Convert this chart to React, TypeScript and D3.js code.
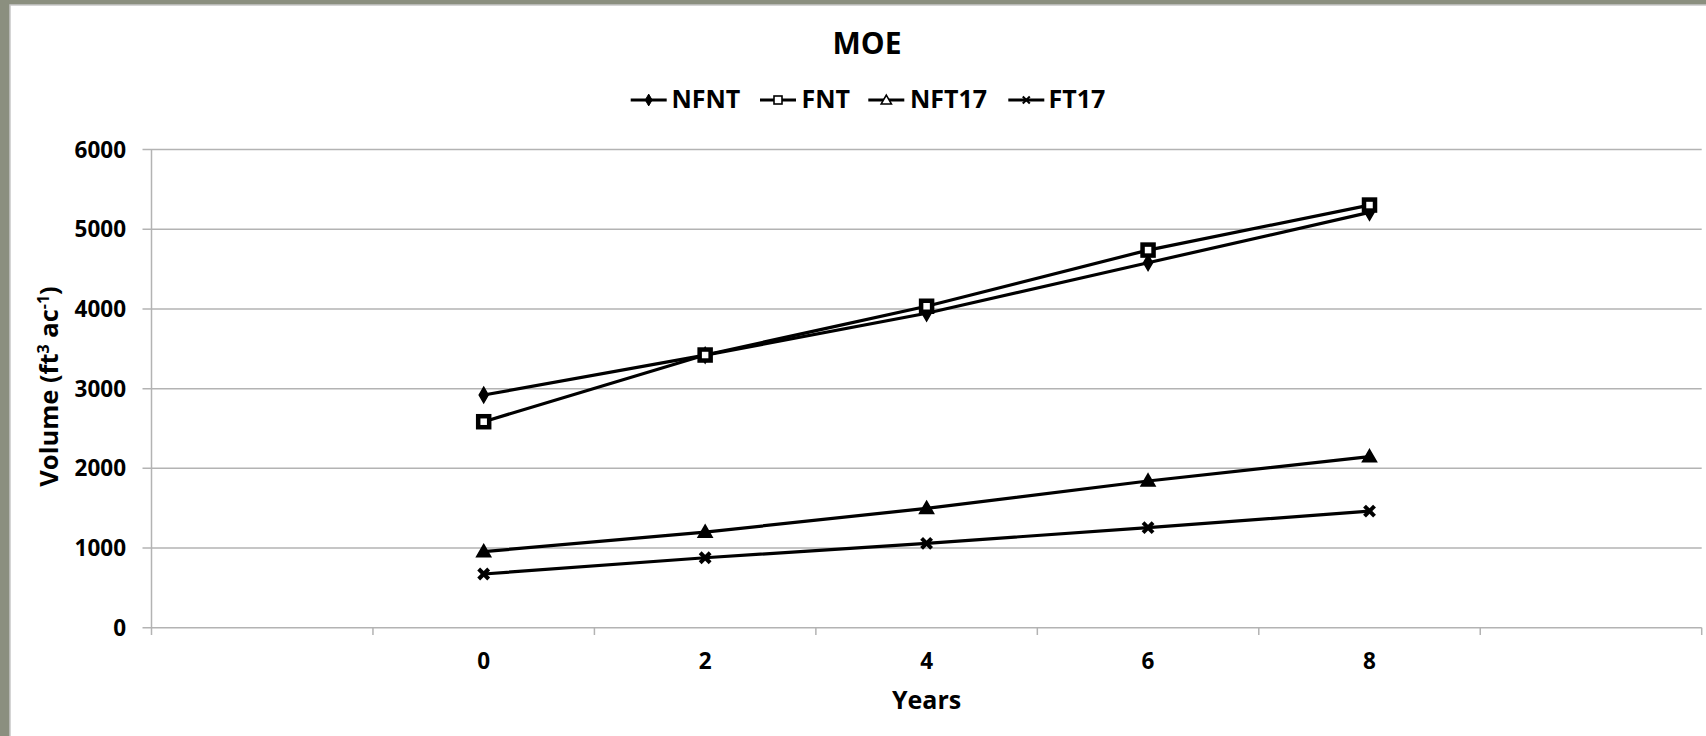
import React from "react";
import * as d3 from "d3";

const categories = ["", "0", "2", "4", "6", "8", ""];
const pointCats = ["0", "2", "4", "6", "8"];
const nfnt = [2920, 3420, 3946, 4580, 5212];
const fnt = [2585, 3422, 4034, 4739, 5304];
const nft17 = [955, 1200, 1498, 1841, 2146];
const ft17 = [674, 878, 1059, 1255, 1464];
const yTicks = [0, 1000, 2000, 3000, 4000, 5000, 6000];
const seriesNames = ["NFNT", "FNT", "NFT17", "FT17"];
const seriesValues = [nfnt, fnt, nft17, ft17];
const seriesMarkers = ["diamond", "square", "triangle", "cross"];

const W = 1706;
const H = 736;
const FONT = "'Open Sans', 'Noto Sans', sans-serif";

const x = d3
  .scaleBand<number>()
  .domain(d3.range(categories.length))
  .range([151.5, 1701.7])
  .paddingInner(0)
  .paddingOuter(0);
const y = d3.scaleLinear().domain([0, 6000]).range([627.7, 149.6]);

const catIndex = (c: string) => categories.indexOf(c);
const cx = (c: string) => (x(catIndex(c)) as number) + x.bandwidth() / 2;

function Marker({ type, px, py, legend = false }: { type: string; px: number; py: number; legend?: boolean }) {
  if (type === "diamond") {
    const p = d3.symbol(d3.symbolDiamond, legend ? 40 : 70)();
    return (
      <path
        d={p || ""}
        transform={`translate(${px},${py})`}
        fill="#000"
        stroke="#000"
        strokeWidth={legend ? 1 : 1.5}
        strokeLinejoin="miter"
      />
    );
  }
  if (type === "square") {
    const r = legend ? 4 : 5.5;
    return (
      <rect
        x={px - r}
        y={py - r}
        width={2 * r}
        height={2 * r}
        fill="#fff"
        stroke="#000"
        strokeWidth={legend ? 1.6 : 4.5}
      />
    );
  }
  if (type === "triangle") {
    const p = d3.symbol(d3.symbolTriangle, legend ? 45 : 80)();
    return (
      <path
        d={p || ""}
        transform={`translate(${px},${py + 1})`}
        fill={legend ? "#fff" : "#000"}
        stroke="#000"
        strokeWidth={legend ? 1.6 : 1.8}
        strokeLinejoin="miter"
      />
    );
  }
  const r = legend ? 3.5 : 5;
  return (
    <g transform={`translate(${px},${py})`} stroke="#000" strokeWidth={legend ? 2 : 4} strokeLinecap="butt">
      <line x1={-r} y1={-r} x2={r} y2={r} />
      <line x1={-r} y1={r} x2={r} y2={-r} />
    </g>
  );
}

export default function App() {
  const line = d3
    .line<number>()
    .x((_, i) => cx(pointCats[i]))
    .y((v) => y(v));

  const legendItems = [
    { lineX: 630.7, textX: 671.5 },
    { lineX: 760, textX: 801.5 },
    { lineX: 868.3, textX: 910 },
    { lineX: 1008.3, textX: 1048.5 },
  ];

  return (
    <div style={{ position: "fixed", left: 0, top: 0, width: W, height: H, overflow: "hidden" }}>
      <svg width={W} height={H} style={{ display: "block" }}>
        <rect x={0} y={0} width={W} height={H} fill="#8b8f7f" />
        <rect x={10} y={5} width={W + 20} height={H + 20} fill="#fff" stroke="#c8c8c8" strokeWidth={1.5} />

        {/* gridlines */}
        {yTicks.map((t) => (
          <g key={t}>
            <line x1={142.5} x2={1701.7} y1={y(t)} y2={y(t)} stroke="#b3b3b3" strokeWidth={1.5} />
            <text
              x={126}
              y={y(t) + 8}
              textAnchor="end"
              fontFamily={FONT}
              fontWeight={700}
              fontSize={22.5}
              fill="#000"
            >
              {t}
            </text>
          </g>
        ))}
        {/* y axis */}
        <line x1={151.5} x2={151.5} y1={149.6} y2={627.7} stroke="#b3b3b3" strokeWidth={1.5} />
        {/* x ticks */}
        {d3.range(categories.length + 1).map((i) => {
          const xx = i < categories.length ? (x(i) as number) : x.range()[1];
          return <line key={i} x1={xx} x2={xx} y1={627.7} y2={635} stroke="#b3b3b3" strokeWidth={1.5} />;
        })}
        {categories.map((c, i) =>
          c ? (
            <text
              key={i}
              x={(x(i) as number) + x.bandwidth() / 2}
              y={669}
              textAnchor="middle"
              fontFamily={FONT}
              fontWeight={700}
              fontSize={22.5}
            >
              {c}
            </text>
          ) : null
        )}

        {/* series */}
        {seriesValues.map((vals, si) => (
          <g key={si}>
            <path d={line(vals) || ""} fill="none" stroke="#000" strokeWidth={3.2} />
            {vals.map((v, i) => (
              <Marker key={i} type={seriesMarkers[si]} px={cx(pointCats[i])} py={y(v)} />
            ))}
          </g>
        ))}

        {/* title */}
        <text x={867} y={54.3} textAnchor="middle" fontFamily={FONT} fontWeight={700} fontSize={30}>
          MOE
        </text>

        {/* legend */}
        {seriesNames.map((n, i) => (
          <g key={n}>
            <line
              x1={legendItems[i].lineX}
              x2={legendItems[i].lineX + 36}
              y1={100}
              y2={100}
              stroke="#000"
              strokeWidth={3}
            />
            <Marker type={seriesMarkers[i]} px={legendItems[i].lineX + 18} py={100} legend />
            <text x={legendItems[i].textX} y={108.3} fontFamily={FONT} fontWeight={700} fontSize={25}>
              {n}
            </text>
          </g>
        ))}

        {/* axis titles */}
        <text x={926.6} y={709} textAnchor="middle" fontFamily={FONT} fontWeight={700} fontSize={25}>
          Years
        </text>
        <text
          transform="translate(58,386.5) rotate(-90)"
          textAnchor="middle"
          fontFamily={FONT}
          fontWeight={700}
          fontSize={25.5}
        >
          Volume (ft
          <tspan fontSize={16} dy={-9.5}>
            3
          </tspan>
          <tspan dy={9.5}> ac</tspan>
          <tspan fontSize={16} dy={-9.5}>
            -1
          </tspan>
          <tspan dy={9.5}>)</tspan>
        </text>
      </svg>
    </div>
  );
}
